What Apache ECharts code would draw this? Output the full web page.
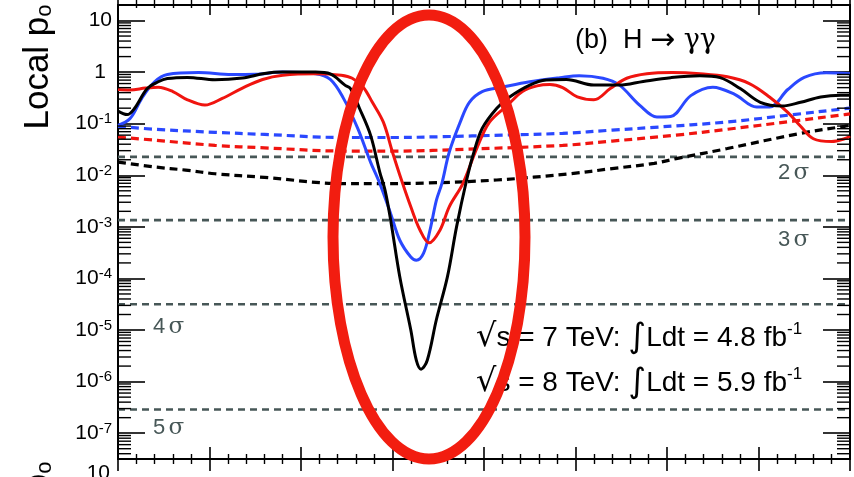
<!DOCTYPE html>
<html><head><meta charset="utf-8">
<script src="https://cdn.jsdelivr.net/npm/echarts@6/dist/echarts.min.js"></script>
<style>html,body{margin:0;padding:0;background:#fff}#c{width:854px;height:477px}</style>
</head><body><div id="c"></div>
<script>
// ---- data (local p0 vs mH [GeV]) ----
const massObs = [110.0,110.5,110.9,111.6,112.2,112.7,113.8,115.3,116.8,118.0,119.0,120.8,121.6,122.4,122.7,123.2,123.8,124.3,124.6,124.9,125.4,126.0,126.3,126.56,126.9,127.4,128.0,128.5,129.05,129.4,129.9,130.7,131.4,132.5,133.4,134.5,136.0,137.4,138.7,140.2,141.8,142.9,144.0,145.1,146.3,147.3,148.4,149.5,150.0];
const pObs = [0.175,0.15,0.197,0.48,0.65,0.75,0.79,0.71,0.77,0.94,1.0,1.0,0.92,0.56,0.48,0.197,0.06,0.0117,0.005,1.35e-3,1.07e-4,1e-5,2.6e-6,1.74e-6,2.6e-6,1.6e-5,1.07e-4,1e-3,8.1e-3,0.0245,0.081,0.2,0.33,0.56,0.70,0.72,0.56,0.56,0.66,0.78,0.85,0.78,0.48,0.26,0.22,0.26,0.33,0.355,0.355];

const mass2011 = [110.0,110.66,111.3,112.0,112.7,114.4,116.2,117.5,119.0,120.8,121.6,122.3,123.1,123.8,124.3,124.9,125.4,126.0,126.3,126.7,127.05,127.4,127.7,128.1,128.7,129.2,129.9,131.0,132.5,134.15,135.2,136.5,137.4,138.5,139.45,140.2,141.3,142.5,143.7,144.9,145.6,146.6,147.5,148.7,150.0];
const p2011 = [0.093,0.126,0.31,0.65,0.9,0.98,0.9,0.91,1.0,0.93,0.72,0.32,0.081,0.018,7e-3,1.8e-3,5.5e-4,2.6e-4,2.26e-4,3.1e-4,8.7e-4,3.3e-3,7e-3,0.028,0.107,0.26,0.42,0.51,0.65,0.78,0.85,0.76,0.56,0.23,0.135,0.138,0.35,0.51,0.37,0.21,0.21,0.46,0.79,0.97,0.93];

const mass2012 = [110.0,110.66,111.5,112.2,113.0,113.8,114.75,115.7,116.8,117.9,119.0,120.8,122.2,122.8,123.4,123.9,124.5,125.0,125.5,126.0,126.5,127.0,127.6,128.1,128.85,129.6,130.3,131.3,132.1,132.9,133.6,134.3,135.1,136.0,136.9,137.8,138.9,140.3,141.8,143.3,144.5,145.6,146.6,147.3,148.0,149.0,149.7,150.0];
const p2012 = [0.46,0.45,0.49,0.51,0.42,0.29,0.23,0.31,0.49,0.72,0.87,0.93,0.87,0.76,0.51,0.26,0.107,0.028,7.9e-3,2.45e-3,8.7e-4,4.9e-4,8.7e-4,2.45e-3,7e-3,0.033,0.107,0.23,0.42,0.54,0.575,0.5,0.33,0.29,0.48,0.76,0.93,0.98,0.93,0.81,0.6,0.33,0.166,0.089,0.051,0.045,0.051,0.058];

const massExp2011 = [110,112,115.3,118,122.3,125,127.7,131,134.3,137,139.3,143.3,146.9,149.7,150];
const pExp2011 = [0.089,0.078,0.068,0.062,0.054,0.054,0.056,0.06,0.065,0.075,0.085,0.108,0.15,0.195,0.2];

const massExp2012 = [110,112,115.3,118,122.3,125.4,129,134.3,137,140.5,143.3,146.9,149.7,150];
const pExp2012 = [0.055,0.048,0.038,0.034,0.0295,0.0295,0.032,0.038,0.046,0.06,0.078,0.112,0.15,0.155];

const massExpComb = [110,112,113.7,115.3,118,122.3,124.3,127,130.7,134.7,137,139.3,140.5,143.3,147.3,149.7,150];
const pExpComb = [0.018,0.0145,0.0126,0.0107,0.0091,6.9e-3,6.9e-3,7.1e-3,8.1e-3,0.0107,0.0135,0.017,0.021,0.033,0.065,0.089,0.092];

const sigmaP = [0.02275, 1.35e-3, 3.17e-5, 2.87e-7];
const sigmaNums = ['2', '3', '4', '5'];

const xMin = 110, xMax = 150, yMin = 3.16e-8, yMax = 20;

// ---- build ----
const zip = (a, b) => a.map((m, i) => [m, b[i]]);
const BLUE = '#2a48ff', RED = '#f0140f', BLACK = '#000', GRAY = '#475757';
const FONT = 'Liberation Sans, Arial, Helvetica, sans-serif';
const SERIF = 'DejaVu Serif, Liberation Serif, serif';

const minorVals = [];
for (let n = -8; n <= 1; n++) for (let k = 2; k <= 9; k++) {
  const v = k * Math.pow(10, n);
  if (v > yMin && v < yMax) minorVals.push([xMin, v]);
}

function lineSeries(data, color, dashed, z) {
  return {
    type: 'line', data: data, showSymbol: false, smooth: 0.35, z: z,
    lineStyle: { color: color, width: dashed ? 3.2 : 3, type: dashed ? [8, 5] : 'solid' },
    silent: true, animation: false
  };
}

const series = [];
sigmaP.forEach(p => {
  series.push({
    type: 'line', data: [[xMin, p], [xMax, p]], showSymbol: false, z: 1, animation: false, silent: true,
    lineStyle: { color: GRAY, width: 2.6, type: [7, 5] }
  });
});
series.push(lineSeries(zip(massExp2011, pExp2011), BLUE, true, 2));
series.push(lineSeries(zip(massExp2012, pExp2012), RED, true, 2));
series.push(lineSeries(zip(massExpComb, pExpComb), BLACK, true, 2));
series.push(lineSeries(zip(mass2011, p2011), BLUE, false, 3));
series.push(lineSeries(zip(mass2012, p2012), RED, false, 3));
series.push(lineSeries(zip(massObs, pObs), BLACK, false, 4));
series.push({
  type: 'custom', data: minorVals, z: 5, clip: false, silent: true, animation: false,
  encode: { x: 0, y: 1 },
  renderItem: function (params, api) {
    const v = api.value(1);
    const a = api.coord([xMin, v]);
    const b = api.coord([xMax, v]);
    return { type: 'group', children: [
      { type: 'line', shape: { x1: a[0], y1: a[1], x2: a[0] + 13, y2: a[1] }, style: { stroke: '#000', lineWidth: 1.4 } },
      { type: 'line', shape: { x1: b[0] - 13, y1: b[1], x2: b[0], y2: b[1] }, style: { stroke: '#000', lineWidth: 1.4 } }
    ]};
  }
});

function xAx(pos, inside, major, minor) {
  return {
    type: 'value', position: pos, min: xMin, max: xMax, interval: 5,
    axisLine: { show: true, onZero: false, lineStyle: { color: '#000', width: 2 } },
    axisTick: { show: true, inside: inside, length: major, lineStyle: { color: '#000', width: 1.6 } },
    minorTick: { show: true, splitNumber: 5, length: minor, lineStyle: { color: '#000', width: 1.4 } },
    axisLabel: { show: false }, splitLine: { show: false }, minorSplitLine: { show: false }
  };
}
function labelFmt(v) {
  const l = Math.log10(v), n = Math.round(l);
  if (Math.abs(l - n) > 1e-6) return '';
  if (n === 0) return '{o|1}';
  if (n === 1) return '{b|10}';
  return '{b|10}{s|' + n + '}';
}
function yAx(pos, labels) {
  return {
    type: 'log', logBase: 10, position: pos, min: yMin, max: yMax, splitNumber: 9,
    axisLine: { show: true, onZero: false, lineStyle: { color: '#000', width: 2 } },
    axisTick: { show: true, inside: true, length: 27, lineStyle: { color: '#000', width: 1.6 } },
    axisLabel: {
      show: labels, margin: 6, interval: 0, showMinLabel: true, showMaxLabel: true,
      formatter: labelFmt,
      rich: {
        b: { fontSize: 21, fontFamily: FONT, color: '#000', lineHeight: 24 },
        o: { fontSize: 21, fontFamily: FONT, color: '#000', lineHeight: 24, padding: [0, 6, 0, 0] },
        s: { fontSize: 15, fontFamily: FONT, color: '#000', lineHeight: 15, verticalAlign: 'top', padding: [0, 0, 10, 0] }
      }
    },
    splitLine: { show: false }, minorTick: { show: false }
  };
}
function sigmaText(num) {
  return { text: '{n|' + num + '} {g|σ}', verticalAlign: 'middle',
    rich: { n: { fontSize: 22, fontFamily: FONT, fill: GRAY }, g: { fontSize: 23, fontFamily: SERIF, fill: GRAY } } };
}
const titleRich = { a: { fontSize: 35, fontFamily: FONT, fill: '#000' }, b: { fontSize: 22, fontFamily: FONT, fill: '#000', verticalAlign: 'bottom', padding: [14, 0, 0, 0] } };
const lumiRich = {
  t: { fontSize: 28, fontFamily: FONT, fill: '#000', lineHeight: 34 },
  r: { fontSize: 32, fontFamily: 'DejaVu Sans, sans-serif', fill: '#000', lineHeight: 34 },
  i: { fontSize: 34, fontFamily: 'DejaVu Sans, sans-serif', fill: '#000', lineHeight: 34 },
  s: { fontSize: 17, fontFamily: FONT, fill: '#000', lineHeight: 17, verticalAlign: 'top', padding: [0, 0, 14, 0] }
};

const option = {
  animation: false,
  backgroundColor: '#fff',
  grid: { left: 118, right: 4, top: 5, bottom: 18, containLabel: false },
  xAxis: [xAx('bottom', true, 12, 5), xAx('bottom', false, 12, 5), xAx('top', true, 10, 3), xAx('top', false, 5, 5)],
  yAxis: [yAx('left', true), yAx('right', false)],
  series: series,
  graphic: [
    { type: 'text', x: 38, y: 67, rotation: Math.PI / 2, z: 10,
      style: { text: '{a|Local p}{b|o}', align: 'center', verticalAlign: 'middle', rich: titleRich } },
    { type: 'text', x: 38, y: 524, rotation: Math.PI / 2, z: 10,
      style: { text: '{a|Local p}{b|o}', align: 'center', verticalAlign: 'middle', rich: titleRich } },
    { type: 'text', x: 110, y: 473, z: 10, style: { text: '10', font: '21px ' + FONT, fill: '#000', align: 'right', verticalAlign: 'middle' } },
    { type: 'text', x: 575, y: 41, z: 10, style: { text: '{t|(b)  H }{a|→}{g| γγ}', align: 'left', verticalAlign: 'middle',
        rich: { t: { fontSize: 27, fontFamily: FONT, fill: '#000' }, a: { fontSize: 30, fontFamily: 'DejaVu Sans, sans-serif', fill: '#000' }, g: { fontSize: 27, fontFamily: SERIF, fill: '#000' } } } },
    { type: 'text', x: 476, y: 338, z: 10, style: { text: '{r|√}{t|s = 7 TeV: }{i|∫}{t|Ldt = 4.8 fb}{s|-1}', align: 'left', verticalAlign: 'middle', rich: lumiRich } },
    { type: 'text', x: 476, y: 383, z: 10, style: { text: '{r|√}{t|s = 8 TeV: }{i|∫}{t|Ldt = 5.9 fb}{s|-1}', align: 'left', verticalAlign: 'middle', rich: lumiRich } },
    { type: 'text', x: 778, y: 173, z: 10, style: sigmaText(sigmaNums[0]) },
    { type: 'text', x: 778, y: 240, z: 10, style: sigmaText(sigmaNums[1]) },
    { type: 'text', x: 153, y: 327, z: 10, style: sigmaText(sigmaNums[2]) },
    { type: 'text', x: 153, y: 428, z: 10, style: sigmaText(sigmaNums[3]) },
    { type: 'ellipse', z: 100, shape: { cx: 429, cy: 237, rx: 96, ry: 222 },
      style: { fill: 'none', stroke: '#f21d10', lineWidth: 11 } }
  ]
};
const chart = echarts.init(document.getElementById('c'), null, { renderer: 'canvas' });
chart.setOption(option);
</script></body></html>
